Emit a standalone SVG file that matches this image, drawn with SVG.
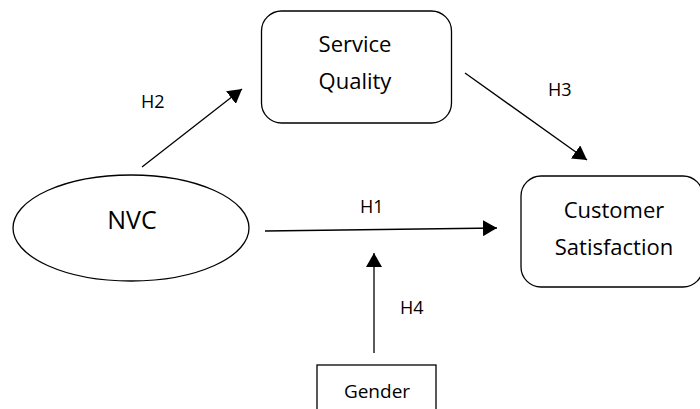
<svg xmlns="http://www.w3.org/2000/svg" width="700" height="409" viewBox="0 0 700 409">
  <defs>
    <style>
      .shape { fill: #ffffff; stroke: #000000; stroke-width: 1.3; }
      .conn { fill: none; stroke: #000000; stroke-width: 1.3; }
      .lbl { font-family: "Open Sans", "Liberation Sans", sans-serif; fill: #000000; text-anchor: middle; }
      .big { font-size: 22px; }
      .h { font-family: "Open Sans", "Liberation Sans", sans-serif; font-size: 18px; fill: #000000; }
    </style>
    <marker id="arrow" markerUnits="userSpaceOnUse" markerWidth="14" markerHeight="16" viewBox="0 0 14 16" refX="14" refY="8" orient="auto">
      <path d="M0,0 L14,8 L0,16 Z" fill="#000000"/>
    </marker>
  </defs>
  <rect width="700" height="409" fill="#ffffff"/>

  <g id="service-quality">
    <rect class="shape" x="261.5" y="11" width="190" height="112" rx="20" ry="20"/>
    <text class="lbl big" x="355" y="52">Service</text>
    <text class="lbl big" x="355" y="89">Quality</text>
  </g>

  <g id="nvc">
    <ellipse class="shape" cx="131" cy="228" rx="118" ry="53"/>
    <text class="lbl" style="font-size:25px" x="132" y="229">NVC</text>
  </g>

  <g id="customer-satisfaction">
    <rect class="shape" x="521" y="176" width="182" height="111" rx="20" ry="20"/>
    <text class="lbl big" x="614" y="218">Customer</text>
    <text class="lbl big" x="614" y="255">Satisfaction</text>
  </g>

  <g id="gender">
    <rect class="shape" x="317" y="365" width="119" height="60"/>
    <text class="lbl" style="font-size:19px" x="377" y="398">Gender</text>
  </g>

  <g id="connectors">
    <line class="conn" x1="142" y1="167" x2="242" y2="89" marker-end="url(#arrow)"/>
    <line class="conn" x1="465" y1="73" x2="587" y2="160" marker-end="url(#arrow)"/>
    <line class="conn" x1="265" y1="231" x2="497" y2="228" marker-end="url(#arrow)"/>
    <line class="conn" x1="374" y1="353" x2="374" y2="253" marker-end="url(#arrow)"/>
    <text class="h" x="141" y="108">H2</text>
    <text class="h" x="548" y="96">H3</text>
    <text class="h" x="360" y="213">H1</text>
    <text class="h" x="400" y="314">H4</text>
  </g>
</svg>
